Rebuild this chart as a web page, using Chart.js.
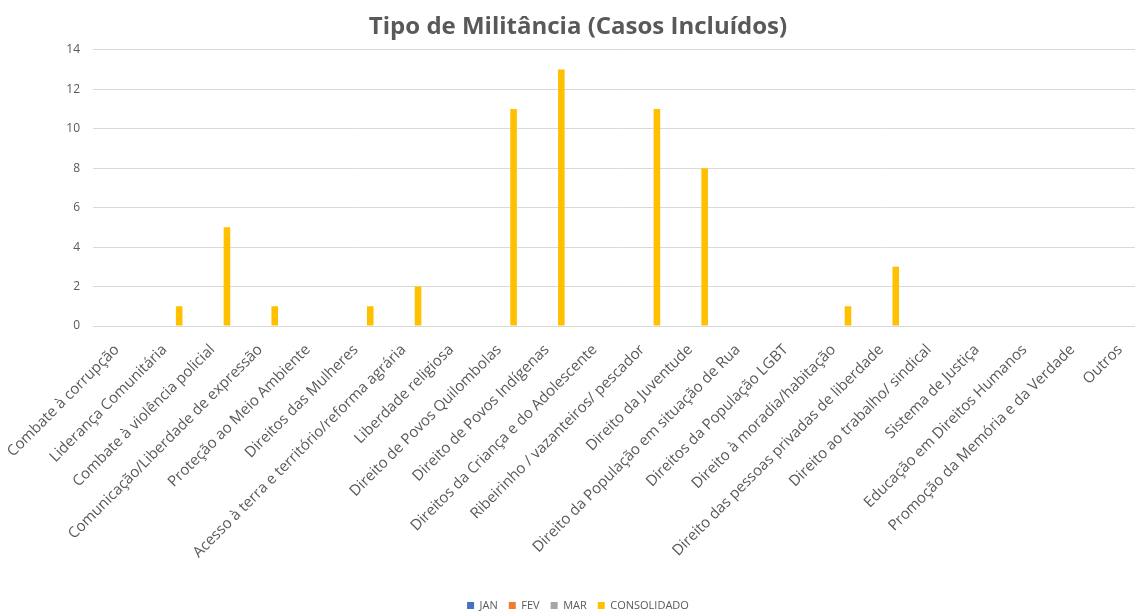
<!DOCTYPE html>
<html>
<head>
<meta charset="utf-8">
<script src="https://cdn.jsdelivr.net/npm/chart.js@4/dist/chart.umd.min.js"></script>
<style>
  html, body { margin: 0; padding: 0; background: #fff; overflow: hidden; }
  #wrap { width: 1156px; height: 611px; }
</style>
</head>
<body>
<div id="wrap"><canvas id="grafico"></canvas></div>
<script>
const categorias = [
  "Combate à corrupção",
  "Liderança Comunitária",
  "Combate à violência policial",
  "Comunicação/Liberdade de expressão",
  "Proteção ao Meio Ambiente",
  "Direitos das Mulheres",
  "Acesso à terra e território/reforma agrária",
  "Liberdade religiosa",
  "Direito de Povos Quilombolas",
  "Direito de Povos Indígenas",
  "Direitos da Criança e do Adolescente",
  "Ribeirinho / vazanteiros/ pescador",
  "Direito da Juventude",
  "Direito da População em situação de Rua",
  "Direitos da População LGBT",
  "Direito à moradia/habitação",
  "Direito das pessoas privadas de liberdade",
  "Direito ao trabalho/ sindical",
  "Sistema de Justiça",
  "Educação em Direitos Humanos",
  "Promoção da Memória e da Verdade",
  "Outros",
];
const jan = [0, 0, 0, 0, 0, 0, 0, 0, 0, 0, 0, 0, 0, 0, 0, 0, 0, 0, 0, 0, 0, 0];
const fev = [0, 0, 0, 0, 0, 0, 0, 0, 0, 0, 0, 0, 0, 0, 0, 0, 0, 0, 0, 0, 0, 0];
const mar = [0, 0, 0, 0, 0, 0, 0, 0, 0, 0, 0, 0, 0, 0, 0, 0, 0, 0, 0, 0, 0, 0];
const consolidado = [0, 1, 5, 1, 0, 1, 2, 0, 11, 13, 0, 11, 8, 0, 0, 1, 3, 0, 0, 0, 0, 0];
const yTicks = [0, 2, 4, 6, 8, 10, 12, 14];

const cinza = "#595959";
const fonte = "'Open Sans', 'DejaVu Sans', sans-serif";

function serie(label, data, cor) {
  return {
    label: label,
    data: data,
    backgroundColor: cor,
    borderWidth: 0,
    categoryPercentage: 0.81,
    barPercentage: 0.68,
  };
}

new Chart(document.getElementById("grafico"), {
  type: "bar",
  data: {
    labels: categorias,
    datasets: [
      serie("JAN", jan, "#4472C4"),
      serie("FEV", fev, "#ED7D31"),
      serie("MAR", mar, "#A5A5A5"),
      serie("CONSOLIDADO", consolidado, "#FFC000"),
    ],
  },
  options: {
    responsive: true,
    maintainAspectRatio: false,
    animation: false,
    layout: {
      padding: { left: 12, right: 12, top: 6, bottom: -10 },
    },
    plugins: {
      title: {
        display: true,
        text: "Tipo de Militância (Casos Incluídos)",
        color: cinza,
        font: { family: fonte, size: 24, weight: "bold" },
        padding: { top: 7, bottom: 8 },
      },
      legend: {
        position: "bottom",
        labels: {
          color: cinza,
          font: { family: fonte, size: 11 },
          boxWidth: 7,
          boxHeight: 7,
          padding: 11,
        },
      },
      tooltip: { enabled: false },
    },
    scales: {
      x: {
        grid: { display: false },
        border: { color: "#d9d9d9" },
        afterFit: (scale) => {
          scale.height = 263;
        },
        ticks: {
          color: cinza,
          font: { family: fonte, size: 15 },
          minRotation: 45,
          maxRotation: 45,
          autoSkip: false,
          padding: 7,
        },
      },
      y: {
        min: 0,
        max: 14,
        afterBuildTicks: (axis) => {
          axis.ticks = yTicks.map((v) => ({ value: v }));
        },
        afterFit: (scale) => {
          scale.width = 81;
        },
        grid: { color: "#d9d9d9", drawTicks: false },
        border: { display: false },
        ticks: {
          color: cinza,
          font: { family: fonte, size: 12 },
          padding: 13,
        },
      },
    },
  },
});
</script>
</body>
</html>
